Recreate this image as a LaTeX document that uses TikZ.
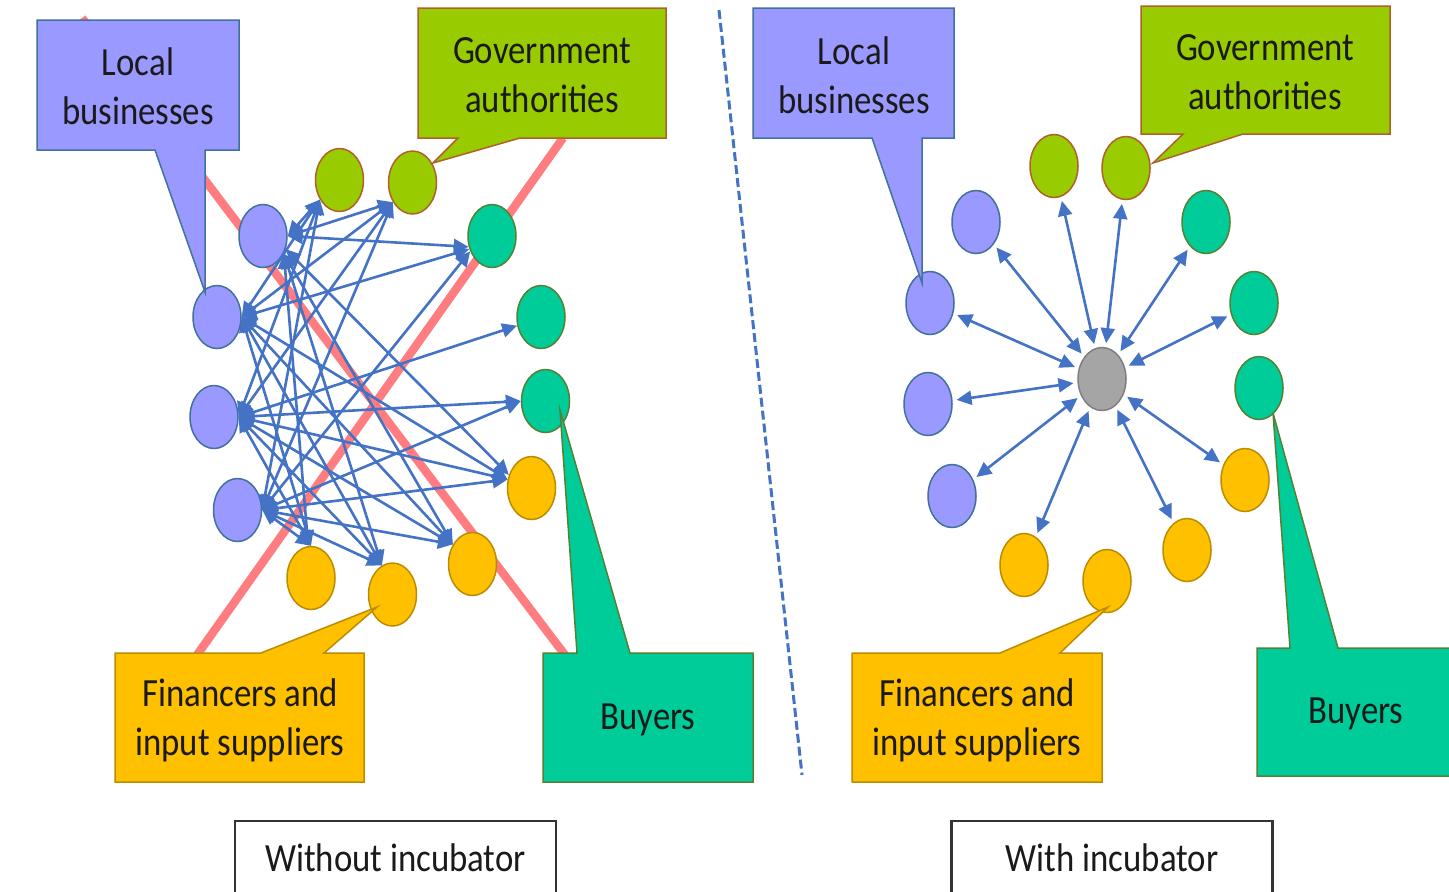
\documentclass[tikz,border=0pt]{standalone}
\usepackage{fontspec}
\setmainfont{Carlito}[FakeStretch=0.87]
\usetikzlibrary{arrows.meta,shapes.geometric}
\definecolor{lbcol}{HTML}{9999FF}
\definecolor{lbedge}{HTML}{41719C}
\definecolor{gvcol}{HTML}{99CC00}
\definecolor{gvedge}{HTML}{B0602A}
\definecolor{fncol}{HTML}{FFC000}
\definecolor{fnedge}{HTML}{BC8C00}
\definecolor{bycol}{HTML}{00CC99}
\definecolor{byedge}{HTML}{548235}
\definecolor{arrcol}{HTML}{4472C4}
\definecolor{redcol}{HTML}{FF7C80}
\definecolor{ctrcol}{HTML}{A5A5A5}
\definecolor{ctredge}{HTML}{7F7F7F}
\definecolor{txtcol}{HTML}{1A1A1A}
\tikzset{
  dot/.style={ellipse, line width=0.75pt, minimum width=24pt, minimum height=31.5pt, inner sep=0pt},
  pdot/.style={dot, fill=lbcol, draw=lbedge},
  gdot/.style={dot, fill=gvcol, draw=gvedge},
  tdot/.style={dot, fill=bycol, draw=byedge},
  ydot/.style={dot, fill=fncol, draw=fnedge},
  cdot/.style={dot, fill=ctrcol, draw=ctredge},
  lbshape/.style={fill=lbcol, draw=lbedge, line width=0.75pt, line join=miter},
  gvshape/.style={fill=gvcol, draw=gvedge, line width=0.75pt, line join=miter},
  fnshape/.style={fill=fncol, draw=fnedge, line width=0.75pt, line join=miter},
  byshape/.style={fill=bycol, draw=byedge, line width=0.75pt, line join=miter},
  lbl/.style={align=center, text=txtcol, inner sep=0pt},
  link/.style={draw=arrcol, line width=1.3pt, {Triangle[length=7.5pt,width=7pt]}-{Triangle[length=7.5pt,width=7pt]}},
  redline/.style={draw=redcol, line width=4.2pt},
  capbox/.style={draw=black!80, line width=1.2pt, fill=white, minimum width=160.5pt, minimum height=37pt, inner sep=0pt, text=txtcol},
}
\begin{document}
\begin{tikzpicture}[x=0.5pt,y=-0.5pt,font=\fontsize{20}{24.5}\selectfont]
\useasboundingbox (0,0) rectangle (1449,891);
\fill[white] (0,0) rectangle (1449,891);

% red lines
\coordinate (ra1) at (82,18);
\coordinate (ra2) at (565,655);
\coordinate (rb1) at (197,655);
\coordinate (rb2) at (563,138);
\draw[redline] (ra1) -- (ra2);
\draw[redline] (rb1) -- (rb2);

% dashed separator
\coordinate (d1) at (719,10);
\coordinate (d2) at (802,775);
\draw[arrcol, line width=1.5pt, dash pattern=on 4.5pt off 2pt] (d1) -- (d2);

% ---------- left network nodes
\node[gdot] (G1) at (339.5,180) {};
\node[gdot] (G2) at (412.5,182.5) {};
\node[pdot] (P0) at (263,236) {};
\node[pdot] (P1) at (217,317) {};
\node[pdot] (P2) at (214,417) {};
\node[pdot] (P3) at (237.5,510) {};
\node[tdot] (T1) at (492,236) {};
\node[tdot] (T2) at (541,317) {};
\node[tdot] (T3) at (545.5,401) {};
\node[ydot] (Y1) at (531.5,488) {};
\node[ydot] (Y2) at (472.5,564) {};
\node[ydot] (Y3) at (392.5,594.5) {};
\node[ydot] (Y4) at (311,578) {};

% mesh links
\foreach \a/\aa/\b/\bb in {
 P0/0/G1/225, P0/0/G2/225, P0/0/T1/205, P0/-40/Y2/135, P0/-40/Y3/110, P0/-40/Y4/95, P0/-30/Y1/150,
 P1/0/G1/225, P1/0/G2/225, P1/0/T1/210, P1/0/Y1/160, P1/0/Y2/135, P1/0/Y3/110, P1/0/Y4/90,
 P2/0/G1/225, P2/0/G2/225, P2/0/T2/200, P2/0/T3/180, P2/0/Y1/160, P2/0/Y2/135, P2/0/Y3/110, P2/0/Y4/90,
 P3/0/G1/225, P3/0/G2/225, P3/0/T1/215, P3/0/T3/180, P3/0/Y1/160, P3/0/Y2/135, P3/0/Y3/110, P3/0/Y4/90}
 \draw[link] (\a.\aa) -- (\b.\bb);

% ---------- right network nodes
\node[cdot] (RC) at (1102,379) {};
\node[pdot] (RP0) at (976,222) {};
\node[pdot] (RP1) at (930,303) {};
\node[pdot] (RP2) at (928,404) {};
\node[pdot] (RP3) at (952,496) {};
\node[gdot] (RG1) at (1054,166) {};
\node[gdot] (RG2) at (1126,168) {};
\node[tdot] (RT0) at (1206,222) {};
\node[tdot] (RT1) at (1254,303) {};
\node[tdot] (RT2) at (1259,388) {};
\node[ydot] (RY0) at (1245,480) {};
\node[ydot] (RY1) at (1187,550) {};
\node[ydot] (RY2) at (1024,565) {};
\node[ydot] (RY3) at (1107,581) {};

\foreach \n in {RP0,RP1,RP2,RP3,RG1,RG2,RT0,RT1,RY0,RY1,RY2}
 \draw[link, shorten <=2pt, shorten >=2pt] (RC) -- (\n);

% ---------- callouts left
\draw[lbshape] (37,20) -- (239,20) -- (239,150) -- (205,150) -- (205,292) -- (155,150) -- (37,150) -- cycle;
\node[lbl] (tLL) at (138,86) {Local\\businesses};
\draw[gvshape] (418,8) -- (666,8) -- (666,138) -- (520,138) -- (433,163) -- (458,138) -- (418,138) -- cycle;
\node[lbl] (tGL) at (542,75) {Government\\authorities};
\draw[fnshape] (115,653) -- (261,653) -- (377,607) -- (324,653) -- (364,653) -- (364,782) -- (115,782) -- cycle;
\node[lbl] (tFL) at (240,720) {Financers and\\input suppliers};
\draw[byshape] (543,653) -- (577,653) -- (560,410) -- (630,653) -- (753,653) -- (753,782) -- (543,782) -- cycle;
\node[lbl] (tBL) at (648,720) {Buyers};

% ---------- callouts right
\draw[lbshape] (753,8) -- (954,8) -- (954,138) -- (922,138) -- (922,283) -- (872,138) -- (753,138) -- cycle;
\node[lbl] (tLR) at (854,75) {Local\\businesses};
\draw[gvshape] (1141,6) -- (1390,6) -- (1390,134) -- (1243,134) -- (1153,163) -- (1183,134) -- (1141,134) -- cycle;
\node[lbl] (tGR) at (1265,72) {Government\\authorities};
\draw[fnshape] (852,653) -- (1000,653) -- (1108,607) -- (1060,653) -- (1102,653) -- (1102,782) -- (852,782) -- cycle;
\node[lbl] (tFR) at (977,720) {Financers and\\input suppliers};
\draw[byshape] (1257,648) -- (1290,648) -- (1273,413) -- (1338,648) -- (1470,648) -- (1470,776) -- (1257,776) -- cycle;
\node[lbl] (tBR) at (1356,714) {Buyers};

% ---------- captions
\node[capbox] (capL) at (395.5,858) {Without incubator};
\node[capbox] (capR) at (1112,858) {With incubator};
\end{tikzpicture}
\end{document}
